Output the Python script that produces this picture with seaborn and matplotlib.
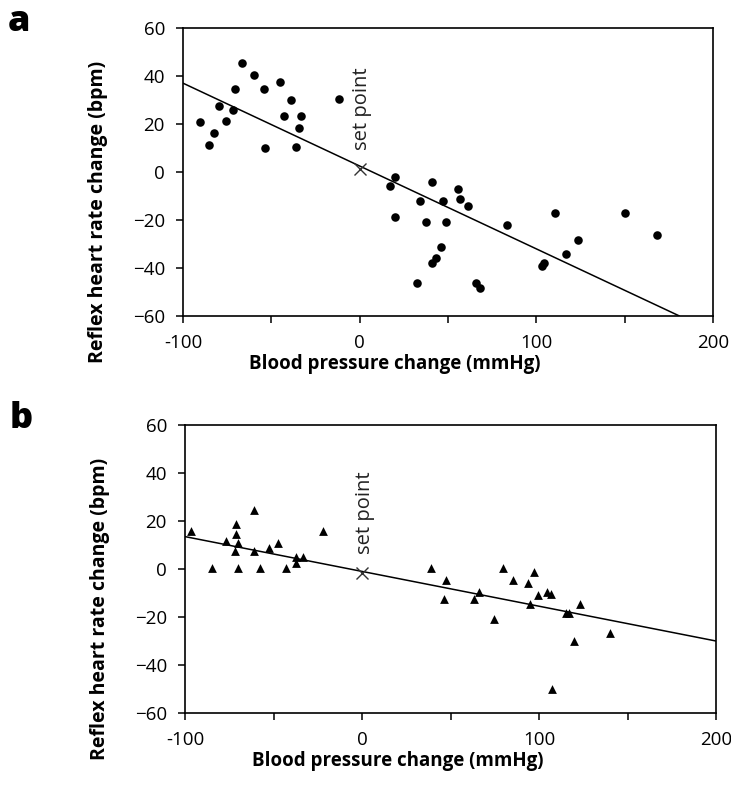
import matplotlib
matplotlib.use("Agg")
import matplotlib.pyplot as plt
import seaborn as sns
import pandas as pd

# panel a: reflex heart rate vs blood pressure change (dots)
a_bp = [-90.2, -85.5, -82.7, -79.7, -75.5, -71.9, -70.8, -66.8, -60.0, -54.2,
        -53.4, -44.9, -42.8, -38.9, -36.0, -34.4, -33.0, -11.7, 17.2, 20.2,
        20.2, 41.2, 34.4, 47.0, 55.5, 56.8, 61.5, 37.4, 49.1, 46.0,
        43.2, 41.2, 32.7, 65.7, 68.3, 83.6, 110.6, 116.6, 123.6, 103.1,
        104.2, 150.4, 168.6]
a_hr = [20.7, 11.3, 16.3, 27.6, 21.4, 25.7, 34.7, 45.3, 40.4, 34.7,
        10.0, 37.6, 23.5, 29.9, 10.6, 18.5, 23.5, 30.6, -5.7, -2.1,
        -18.6, -4.3, -12.1, -12.2, -7.1, -11.4, -14.2, -20.7, -20.7, -31.4,
        -35.7, -37.8, -46.4, -46.4, -48.5, -22.1, -17.1, -34.2, -28.5, -39.2,
        -38.0, -17.1, -26.4]
a_fit_x = [-100, 181]
a_fit_y = [37, -60]
a_set = (0, 1.1)

# panel b: (triangles)
b_bp = [-96.9, -84.5, -76.7, -71.1, -71.1, -70.0, -72.0, -70.0, -61.3, -61.3,
        -57.5, -52.6, -47.7, -43.0, -37.2, -37.2, -33.2, -21.8, 38.9, 47.5,
        46.6, 63.0, 66.0, 74.7, 79.5, 85.2, 93.9, 95.0, 96.9, 99.7,
        104.4, 106.5, 107.5, 115.2, 117.2, 119.9, 122.9, 140.2]
b_hr = [16.0, 0.3, 11.7, 18.8, 14.5, 11.0, 7.5, 0.3, 24.5, 7.5,
        0.3, 8.9, 11.0, 0.3, 4.9, 2.4, 4.9, 16.0, 0.3, -4.6,
        -12.5, -12.5, -9.6, -21.0, 0.3, -4.6, -6.0, -14.6, -1.1, -11.0,
        -9.6, -10.3, -50.1, -18.2, -18.2, -30.1, -14.6, -26.5]
b_fit_x = [-100, 200]
b_fit_y = [13.5, -30]
b_set = (0, -1.8)

x_ticks = [-100, -50, 0, 50, 100, 150, 200]
x_labels = ["-100", "", "0", "", "100", "", "200"]
y_ticks = [-60, -40, -20, 0, 20, 40, 60]

sns.set_style("ticks")
plt.rcParams["font.family"] = ["Open Sans", "DejaVu Sans"]
plt.rcParams["text.color"] = "black"
plt.rcParams["axes.labelcolor"] = "black"

fig = plt.figure(figsize=(7.31, 7.85), dpi=100)
ax_a = fig.add_axes([0.2503, 0.5975, 0.725, 0.3669])
ax_b = fig.add_axes([0.2531, 0.0917, 0.7264, 0.3669])

panels = [
    (ax_a, a_bp, a_hr, a_fit_x, a_fit_y, a_set, "o", 38, "a"),
    (ax_b, b_bp, b_hr, b_fit_x, b_fit_y, b_set, "^", 40, "b"),
]

for ax, bp, hr, fx, fy, sp, mk, size, tag in panels:
    df = pd.DataFrame({"bp": bp, "hr": hr})
    sns.scatterplot(data=df, x="bp", y="hr", marker=mk, s=size, color="black",
                    edgecolor="black", linewidth=0, ax=ax)
    sns.lineplot(x=fx, y=fy, color="black", linewidth=1.1, ax=ax)
    ax.plot(sp[0], sp[1], marker="x", color="#333333", markersize=8, mew=1)
    ax.text(sp[0] + 1.5, sp[1] + 8, "set point", rotation=90, ha="center",
            va="bottom", fontsize=14.5, color="#222222")
    ax.set_xlim(-100, 200)
    ax.set_ylim(-60, 60)
    ax.set_xticks(x_ticks)
    ax.set_xticklabels(x_labels)
    ax.set_yticks(y_ticks)
    ax.tick_params(axis="both", direction="out", length=5, width=1.1,
                   labelsize=13.5, pad=8, colors="black")
    for s in ax.spines.values():
        s.set_linewidth(1.2)
        s.set_color("black")
    ax.set_xlabel("Blood pressure change (mmHg)", fontsize=13.5, fontweight="bold")
    ax.set_ylabel("Reflex heart rate change (bpm)", fontsize=14, fontweight="bold")
    # labels sit off-centre in the original figure
    ax.xaxis.set_label_coords(0.40, -0.132)
    ax.yaxis.set_label_coords(-0.142, 0.36)
    ax.text(-0.33, 0.99, tag, transform=ax.transAxes, fontsize=26,
            fontweight="heavy", va="baseline", ha="left")

fig.savefig("out.png", dpi=100)
